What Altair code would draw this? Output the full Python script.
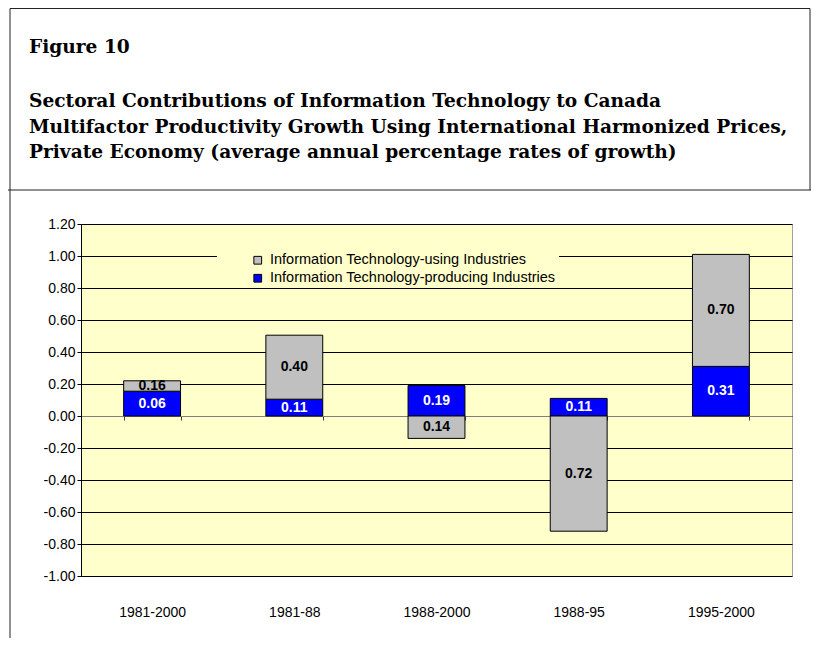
import altair as alt
import pandas as pd

# ---- data ----
periods = ["1981-2000", "1981-88", "1988-2000", "1988-95", "1995-2000"]
it_producing = [0.155, 0.105, 0.19, 0.11, 0.31]
it_using = [0.065, 0.40, -0.14, -0.72, 0.70]
producing_labels = ["0.06", "0.11", "0.19", "0.11", "0.31"]
using_labels = ["0.16", "0.40", "0.14", "0.72", "0.70"]
series_names = ["Information Technology-using Industries",
                "Information Technology-producing Industries"]
series_colors = ["#C0C0C0", "#0000FF"]
y_ticks = [-1.0, -0.8, -0.6, -0.4, -0.2, 0.0, 0.2, 0.4, 0.6, 0.8, 1.0, 1.2]

title_text = "Figure 10"
subtitle_lines = [
    "Sectoral Contributions of Information Technology to Canada",
    "Multifactor Productivity Growth Using International Harmonized Prices,",
    "Private Economy (average annual percentage rates of growth)",
]

# ---- build stacked table (producing at the bottom, using on top / below zero) ----
rows = []
for i, p in enumerate(periods):
    b0, b1 = 0.0, it_producing[i]
    rows.append(dict(period=p, series=series_names[1], y0=b0, y1=b1,
                     label=producing_labels[i], kind="prod"))
    if it_using[i] >= 0:
        g0, g1 = b1, b1 + it_using[i]
    else:
        g0, g1 = 0.0, it_using[i]
    rows.append(dict(period=p, series=series_names[0], y0=g0, y1=g1,
                     label=using_labels[i], kind="use"))
df = pd.DataFrame(rows)
df["mid"] = (df["y0"] + df["y1"]) / 2

W, H = 711, 352
PAD_L, PAD_T = 73, 216
TOTAL_W, TOTAL_H = 803, 630
FONT = "Liberation Sans"
TITLE_FONT = "DejaVu Serif"

xscale = alt.Scale(domain=periods, paddingInner=0.6, paddingOuter=0.3)
yscale = alt.Scale(domain=[-1.0, 1.2], nice=False, zero=False)

x_axis = alt.Axis(title=None, orient="bottom", offset=-160, labelAngle=0,
                  domain=True, domainColor="#808080",
                  ticks=True, tickBand="extent", tickSize=4, tickColor="#404040",
                  grid=False, labelPadding=185, labelFont=FONT, labelFontSize=14,
                  labelColor="black")

y_axis = alt.Axis(title=None, values=y_ticks, grid=True, gridColor="black", gridOpacity=1,
                  domainColor="black", tickColor="black", tickSize=4, labelPadding=2,
                  labelFont=FONT, labelFontSize=14, labelColor="black",
                  labelExpr="replace(format(datum.value, '.2f'), '\u2212', '-')")

base = alt.Chart(df)

bars = base.mark_bar(stroke="black", strokeWidth=1).encode(
    x=alt.X("period:N", scale=xscale, axis=x_axis),
    y=alt.Y("y0:Q", scale=yscale, axis=y_axis),
    y2="y1:Q",
    color=alt.Color("series:N",
                    scale=alt.Scale(domain=series_names, range=series_colors),
                    legend=alt.Legend(title=None, orient="none", legendX=136, legendY=26,
                                      fillColor="#FFFFCC", padding=3,
                                      symbolType="square", symbolSize=60,
                                      symbolStrokeColor="black", symbolStrokeWidth=1,
                                      symbolOffset=30.5, labelOffset=5, rowPadding=3,
                                      labelFont=FONT, labelFontSize=14.5,
                                      labelColor="black", labelLimit=400)),
)

text_prod = base.transform_filter("datum.kind == 'prod'").mark_text(
    font=FONT, fontSize=14, fontWeight="bold", color="white", baseline="middle"
).encode(
    x=alt.X("period:N", scale=xscale, axis=x_axis),
    y=alt.Y("mid:Q", scale=yscale, axis=y_axis),
    text="label:N",
)

text_use = base.transform_filter("datum.kind == 'use'").mark_text(
    font=FONT, fontSize=14, fontWeight="bold", color="black", baseline="middle"
).encode(
    x=alt.X("period:N", scale=xscale, axis=x_axis),
    y=alt.Y("mid:Q", scale=yscale, axis=y_axis),
    text="label:N",
)

one = pd.DataFrame({"a": [0]})
line_color = "#222222"
top_y = -PAD_T + 0.5
left_x = -PAD_L + 2
right_x = TOTAL_W - PAD_L - 1
div_y = 190 - 224
bottom_y = TOTAL_H - PAD_T

frame_left = alt.Chart(one).mark_rule(color=line_color, strokeWidth=1).encode(
    x=alt.value(left_x), y=alt.value(top_y), y2=alt.value(bottom_y))
frame_top = alt.Chart(one).mark_rule(color=line_color, strokeWidth=1).encode(
    x=alt.value(left_x), x2=alt.value(right_x), y=alt.value(top_y))
frame_right = alt.Chart(one).mark_rule(color=line_color, strokeWidth=1).encode(
    x=alt.value(right_x), y=alt.value(top_y), y2=alt.value(div_y))
frame_div = alt.Chart(one).mark_rule(color=line_color, strokeWidth=1).encode(
    x=alt.value(-PAD_L), x2=alt.value(TOTAL_W - PAD_L), y=alt.value(div_y))

chart = alt.layer(bars, text_prod, text_use, frame_left, frame_top, frame_right, frame_div).properties(
    width=W, height=H,
    autosize=alt.AutoSizeParams(type="none"),
    padding={"left": PAD_L, "top": PAD_T, "right": TOTAL_W - PAD_L - W, "bottom": TOTAL_H - PAD_T - H},
    title=alt.TitleParams(
        text=title_text, subtitle=subtitle_lines, anchor="start", frame="group", dx=-52,
        font=TITLE_FONT, fontSize=18.6, fontWeight="bold", color="black",
        subtitleFont=TITLE_FONT, subtitleFontSize=18.6, subtitleFontWeight="bold",
        subtitleColor="black", subtitleLineHeight=25.5, subtitlePadding=36, offset=-154,
    ),
).configure_view(fill="#FFFFCC", stroke="#A0A0A0")

chart.save("out.html", embed_options={"renderer": "svg", "actions": False})
